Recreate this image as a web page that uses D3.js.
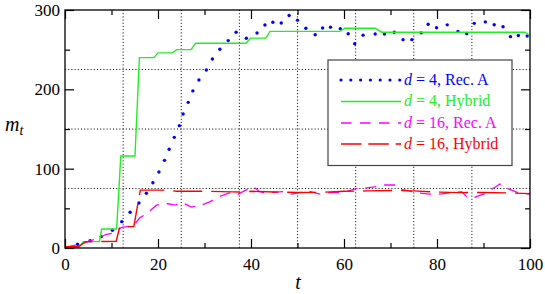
<!DOCTYPE html>
<html><head><meta charset="utf-8">
<script src="https://cdn.jsdelivr.net/npm/d3@7"></script>
<style>body{margin:0;background:#fff}svg{display:block}</style>
</head><body>
<svg id="c" width="545" height="294"></svg>
<script>
// ---- data ----
const xMajorTicks = [0, 20, 40, 60, 80, 100];
const xMinorTicks = [10, 30, 50, 70, 90];
const yMajorTicks = [0, 100, 200, 300];
const yMinorTicks = [50, 150, 250];
const xGrid = [12.5, 25, 37.5, 50, 62.5, 75, 87.5];
const yGrid = [75, 150, 225];

const recA4 = [[2.7,4.7],[5.4,9.2],[7.8,14.3],[10.2,22.3],[12.2,33.2],[14.0,45],[15.9,56.7],[17.5,69],[18.9,82.3],[20.2,95.8],[21.4,110.5],[22.4,124.5],[23.5,139.5],[24.6,154.2],[25.4,169],[26.5,183.6],[27.5,198],[28.8,211.8],[30.4,224.4],[31.7,238.2],[33.3,250.5],[35.1,261.4],[36.8,271.9],[39.0,264.3],[41.3,271],[43.0,281],[44.7,284.5],[46.5,283.6],[48.2,293],[50.0,287.2],[51.8,277],[53.8,268.8],[55.4,277.3],[57.1,278.4],[59.2,276.5],[60.9,270],[62.3,257.4],[64.1,268.3],[66.7,269.8],[68.7,269.8],[70.8,272],[72.7,262.6],[74.6,262.6],[76.6,271.2],[78.1,282],[79.9,277.7],[82.2,281.3],[84.5,273],[86.4,270.2],[88.0,283.2],[90.4,285],[92.3,281.5],[94.2,278.8],[95.8,266.4],[97.5,267.8],[99.4,267.2]];

const hybrid4 = [[0,1.5],[3,1.5],[4,8],[7.4,8],[7.9,24],[11.1,24],[12,116],[15.05,116],[16,240],[19.1,240],[20,246],[23.1,246],[24,250],[27.1,250],[28.1,258],[38.9,258],[39.9,264.5],[43.2,264.5],[44.1,273],[59.1,273],[60.2,277],[66.7,277],[68.1,272],[98.9,272],[100,267.6]];

const recA16 = [[0,1],[3.2,4.7],[7.5,13],[8.7,17],[10,18.5],[11.8,24.8],[12.2,26],[14.7,28],[16.1,38],[17.6,43.7],[19.7,54],[21.7,56.3],[23.7,54],[25.1,57.3],[27.2,51.6],[29.4,54.2],[31.2,58.4],[33.3,65],[35.3,69.5],[36.9,66.8],[38.9,73],[40.5,77.3],[41.9,71],[43,69.7],[47,71],[48.7,68],[50.5,69.7],[52.3,71.8],[54.8,68],[56.3,69.7],[59.9,69.7],[62.7,75.2],[64.2,75.2],[67,77.3],[68.8,79.4],[71.3,79.4],[72.4,74],[75.6,69.7],[78.5,68],[80.6,68],[83.2,69.7],[85.3,71],[86.4,64.7],[87.5,62.6],[90,68],[91.4,72.3],[93.5,80.7],[95,75.2],[97.8,69],[100,68]];

const hybrid16 = [[0,1.5],[2.9,1.5],[4.4,8],[11,8.5],[11.8,27],[14.8,27],[15.8,60],[16.2,73],[22,73],[24,71.5],[30,71.5],[36,70.8],[38,70.5],[40,71.5],[45,70.5],[50,70],[55,70.2],[60,71.5],[65,72],[70,72.5],[75,72],[80,70.5],[85,69.8],[90,70],[95,69.5],[100,68.5]];

const legendLabels = [
  {d:"4", rest:", Rec. A", color:"#0000ff", type:"dot"},
  {d:"4", rest:", Hybrid", color:"#22ee22", type:"solid"},
  {d:"16", rest:", Rec. A", color:"#ff00ff", type:"dash"},
  {d:"16", rest:", Hybrid", color:"#ff0000", type:"longdash"}
];

// ---- chart ----
const svg = d3.select("#c");
const L = 65, R = 530, T = 10, B = 248;
const x = d3.scaleLinear().domain([0,100]).range([L,R]);
const y = d3.scaleLinear().domain([0,300]).range([B,T]);
const serif = '"Liberation Serif"';

// grid
svg.append("g").selectAll("line").data(xGrid).join("line")
  .attr("x1", d=>x(d)).attr("x2", d=>x(d)).attr("y1", T).attr("y2", B)
  .attr("stroke","#000").attr("stroke-width",1).attr("stroke-dasharray","1,2.2");
svg.append("g").selectAll("line").data(yGrid).join("line")
  .attr("y1", d=>y(d)).attr("y2", d=>y(d)).attr("x1", L).attr("x2", R)
  .attr("stroke","#000").attr("stroke-width",1).attr("stroke-dasharray","1,2.2");

// axes ticks
function styleAxis(g){ g.attr("font-family",null).attr("font-size",null);
  g.select(".domain").remove(); g.selectAll(".tick line").attr("stroke","#000").attr("stroke-width",1.2);
  g.selectAll("text").style("font-family",serif).style("font-size","17px").attr("fill","#000"); }
svg.append("g").attr("transform",`translate(0,${B})`)
  .call(d3.axisBottom(x).tickValues(xMajorTicks).tickSize(-9).tickPadding(6).tickFormat(d3.format("d"))).call(styleAxis)
  .selectAll("text").attr("dy","0.95em");
svg.append("g").attr("transform",`translate(0,${B})`)
  .call(d3.axisBottom(x).tickValues(xMinorTicks).tickSize(-5).tickFormat("")).call(styleAxis);
svg.append("g").attr("transform",`translate(0,${T})`)
  .call(d3.axisTop(x).tickValues(xMajorTicks).tickSize(-9).tickFormat("")).call(styleAxis);
svg.append("g").attr("transform",`translate(0,${T})`)
  .call(d3.axisTop(x).tickValues(xMinorTicks).tickSize(-5).tickFormat("")).call(styleAxis);
svg.append("g").attr("transform",`translate(${L},0)`)
  .call(d3.axisLeft(y).tickValues(yMajorTicks).tickSize(-9).tickPadding(5).tickFormat(d3.format("d"))).call(styleAxis);
svg.append("g").attr("transform",`translate(${L},0)`)
  .call(d3.axisLeft(y).tickValues(yMinorTicks).tickSize(-5).tickFormat("")).call(styleAxis);
svg.append("g").attr("transform",`translate(${R},0)`)
  .call(d3.axisRight(y).tickValues(yMajorTicks).tickSize(-9).tickFormat("")).call(styleAxis);
svg.append("g").attr("transform",`translate(${R},0)`)
  .call(d3.axisRight(y).tickValues(yMinorTicks).tickSize(-5).tickFormat("")).call(styleAxis);

// series
const line = d3.line().x(d=>x(d[0])).y(d=>y(d[1]));
svg.append("g").selectAll("circle").data(recA4).join("circle")
  .attr("cx", d=>x(d[0])).attr("cy", d=>y(d[1])).attr("r",1.7).attr("fill","#0000ff");
svg.append("path").datum(hybrid4).attr("d",line).attr("fill","none")
  .attr("stroke","#22ee22").attr("stroke-width",1.4);
svg.append("path").datum(recA16).attr("d",line).attr("fill","none")
  .attr("stroke","#ff00ff").attr("stroke-width",1.3).attr("stroke-dasharray","11,8");
svg.append("path").datum(hybrid16).attr("d",line).attr("fill","none")
  .attr("stroke","#ff0000").attr("stroke-width",1.4).attr("stroke-dasharray","29,9");

// frame
svg.append("rect").attr("x",L).attr("y",T).attr("width",R-L).attr("height",B-T)
  .attr("fill","none").attr("stroke","#000").attr("stroke-width",1.3);

// legend
const lg = svg.append("g");
lg.append("rect").attr("x",328).attr("y",60).attr("width",184).attr("height",105.5)
  .attr("fill","#fff").attr("stroke","#444").attr("stroke-width",1.2);
const rowY = [80, 101.5, 123, 144];
legendLabels.forEach((e,i)=>{
  const ly = rowY[i];
  if(e.type==="dot"){
    lg.append("line").attr("x1",341).attr("x2",401).attr("y1",ly).attr("y2",ly)
      .attr("stroke",e.color).attr("stroke-width",3.2).attr("stroke-linecap","round").attr("stroke-dasharray","0,9.8");
  } else {
    lg.append("line").attr("x1",341).attr("x2",401).attr("y1",ly).attr("y2",ly)
      .attr("stroke",e.color).attr("stroke-width",1.4)
      .attr("stroke-dasharray", e.type==="dash" ? "10.5,8.5" : e.type==="longdash" ? "20.5,6.8" : null);
  }
  const t = lg.append("text").attr("x",404).attr("y",ly+4.5).style("font-family",serif)
    .style("font-size","16px").attr("fill",e.color);
  t.append("tspan").style("font-style","italic").text("d");
  t.append("tspan").text(" = " + e.d + e.rest);
});

// axis labels
const ml = svg.append("text").attr("x",5).attr("y",131).style("font-family",serif).style("font-size","20px").attr("fill","#000");
ml.append("tspan").style("font-style","italic").text("m");
ml.append("tspan").style("font-style","italic").style("font-size","14px").attr("dy",4).text("t");
svg.append("text").attr("x",298).attr("y",289).attr("text-anchor","middle").style("font-family",serif)
  .style("font-size","20px").style("font-style","italic").attr("fill","#000").text("t");
</script>
</body></html>
